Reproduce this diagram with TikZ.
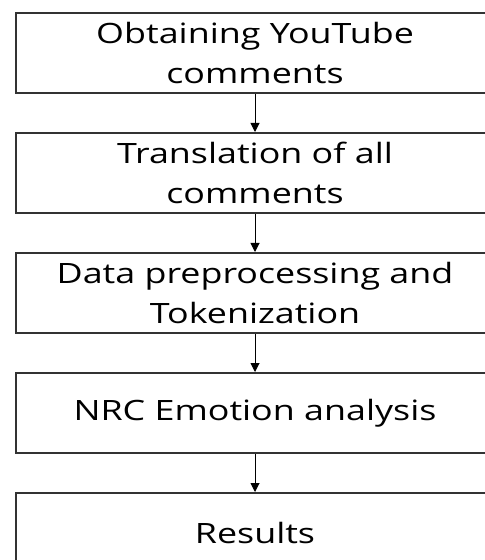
\documentclass[tikz,border=0pt]{standalone}
\usepackage{fontspec}
\setmainfont[FakeStretch=1.28]{Open Sans}
\usetikzlibrary{arrows.meta, positioning}

\begin{document}
\begin{tikzpicture}[
    stepbox/.style={draw=black!80, line width=1pt, minimum width=239pt,
      minimum height=40pt, inner sep=1pt, align=center,
      font=\fontsize{14}{20}\selectfont},
    flow/.style={-{Triangle[width=4.5pt,length=4.5pt]}, line width=0.5pt},
    node distance=19pt
  ]
  \useasboundingbox (0,0) rectangle (242pt,-280pt);
  % steps, top to bottom
  \node[stepbox, anchor=north west] (obtain) at (7.5pt,-6pt)
    {Obtaining YouTube\\comments};
  \node[stepbox, below=of obtain] (translate)
    {Translation of all\\comments};
  \node[stepbox, below=of translate] (prep)
    {Data preprocessing and\\Tokenization};
  \node[stepbox, below=of prep] (nrc) {NRC Emotion analysis};
  \node[stepbox, below=of nrc] (results) {Results};
  % arrows
  \draw[flow] (obtain) -- (translate);
  \draw[flow] (translate) -- (prep);
  \draw[flow] (prep) -- (nrc);
  \draw[flow] (nrc) -- (results);
\end{tikzpicture}
\end{document}
